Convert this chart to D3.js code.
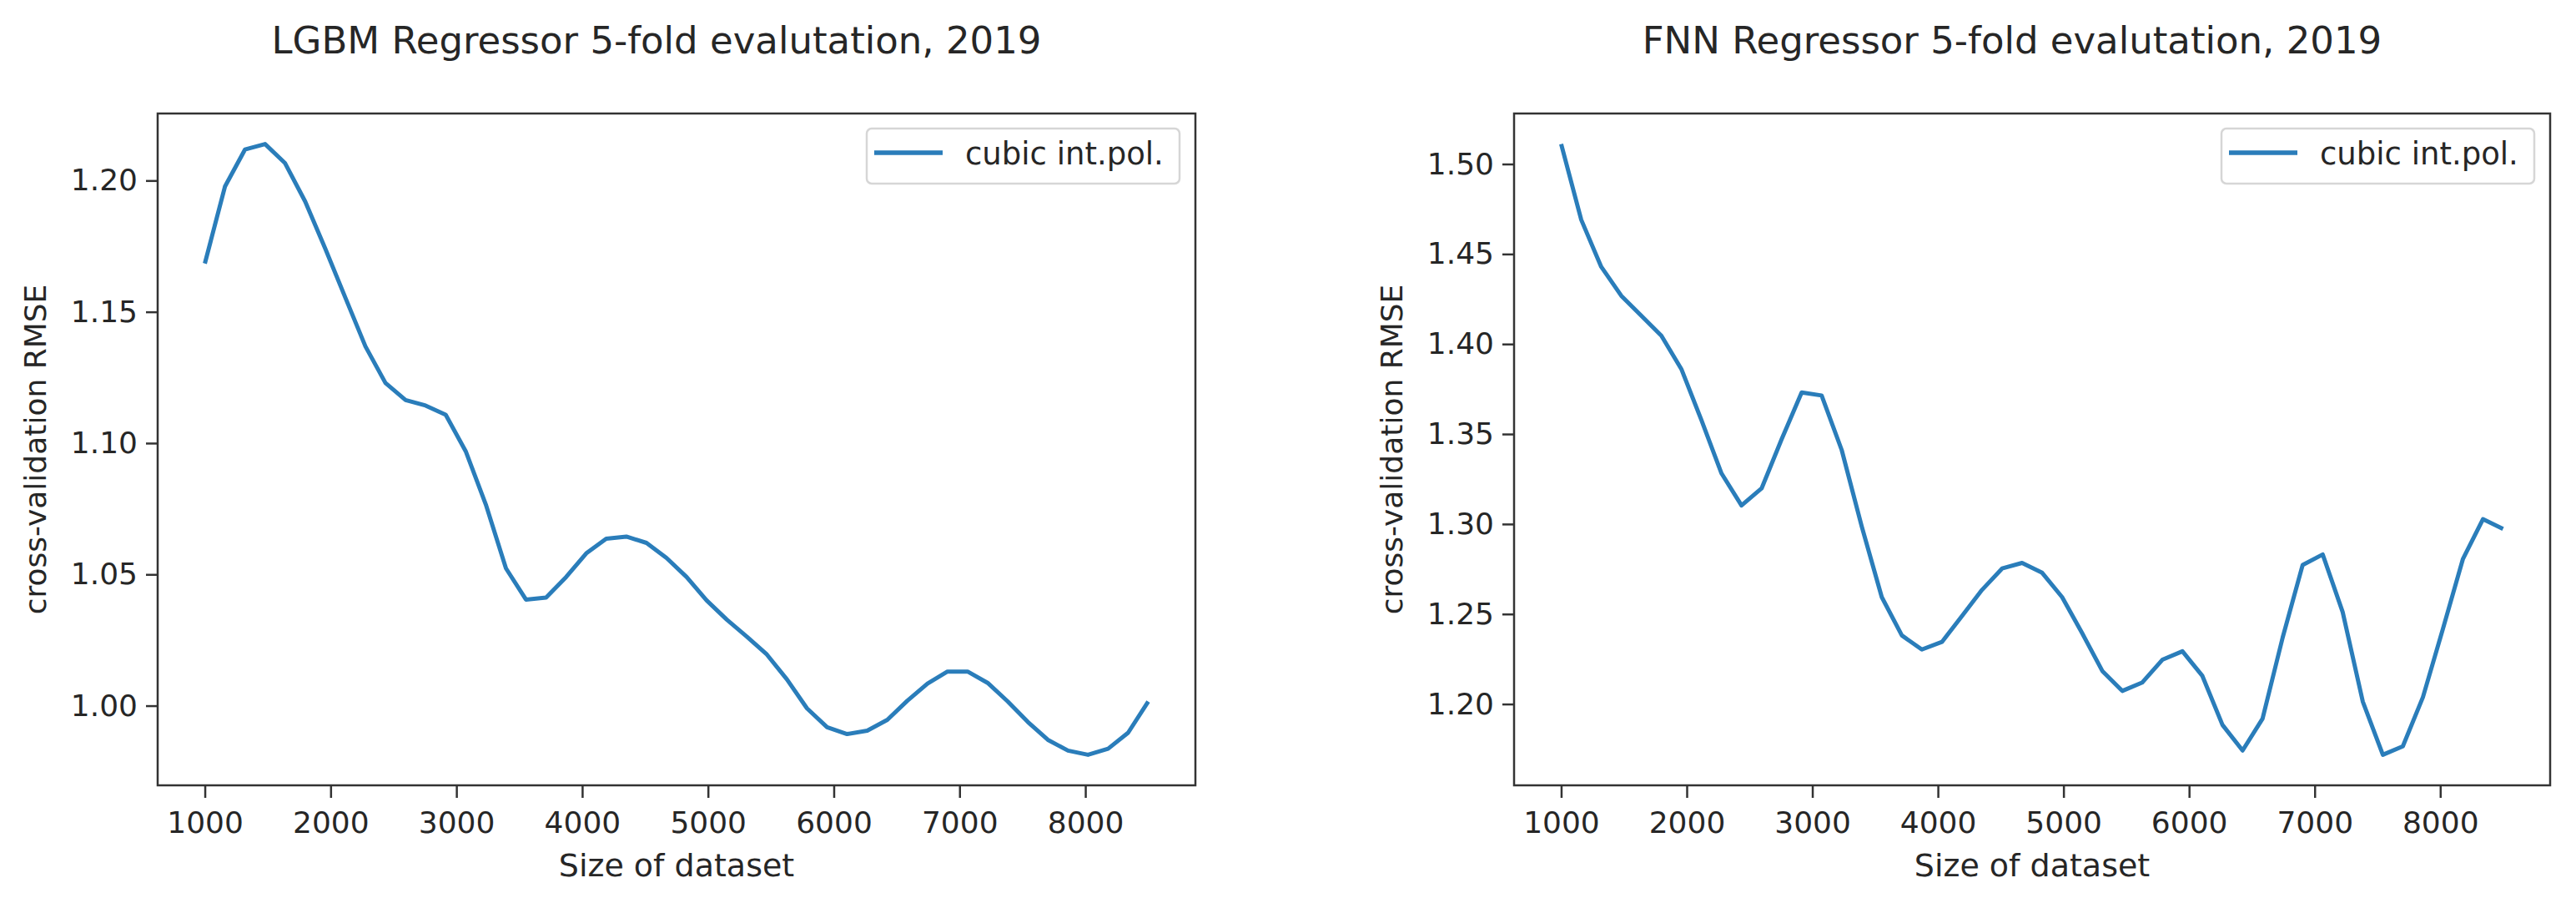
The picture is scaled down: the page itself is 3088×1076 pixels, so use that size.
<!DOCTYPE html>
<html>
<head>
  <meta charset="utf-8">
  <title>5-fold evaluation</title>
  <style>
    body { margin: 0; background: #fff; }
    text { font-family: 'DejaVu Sans', sans-serif; fill: #262626; }
    .axis path, .axis line { stroke: #333; stroke-width: 2.5; }
    .axis text { font-size: 36px; }
  </style>
</head>
<body>
<script src="https://d3js.org/d3.v7.min.js"></script>
<script>
  var width = 3088,
      height = 1076;

  // dataset sizes (x) shared by both panels
  var sizes = [1000, 1160, 1319, 1479, 1638, 1798, 1957, 2117, 2277, 2436, 2596, 2755,
               2915, 3074, 3234, 3394, 3553, 3713, 3872, 4032, 4191, 4351, 4511, 4670,
               4830, 4989, 5149, 5309, 5468, 5628, 5787, 5947, 6106, 6266, 6426, 6585,
               6745, 6904, 7064, 7223, 7383, 7543, 7702, 7862, 8021, 8181, 8340, 8500];

  var lgbmRmse = [1.1684, 1.1977, 1.2118, 1.2139, 1.2066, 1.1920, 1.1741, 1.1554, 1.1368, 1.1229,
                  1.1164, 1.1143, 1.1108, 1.0969, 1.0766, 1.0523, 1.0404, 1.0412, 1.0490, 1.0580,
                  1.0636, 1.0644, 1.0620, 1.0563, 1.0490, 1.0401, 1.0328, 1.0263, 1.0195, 1.0100,
                  0.9990, 0.9918, 0.9892, 0.9905, 0.9946, 1.0019, 1.0084, 1.0130, 1.0130, 1.0087,
                  1.0016, 0.9938, 0.9870, 0.9829, 0.9813, 0.9836, 0.9897, 1.0016];

  var fnnRmse = [1.5111, 1.4690, 1.4429, 1.4268, 1.4157, 1.4046, 1.3861, 1.3577, 1.3281, 1.3103,
                 1.3198, 1.3470, 1.3731, 1.3714, 1.3411, 1.2985, 1.2594, 1.2381, 1.2303, 1.2345,
                 1.2488, 1.2634, 1.2753, 1.2784, 1.2729, 1.2594, 1.2393, 1.2184, 1.2073, 1.2120,
                 1.2246, 1.2293, 1.2156, 1.1884, 1.1742, 1.1919, 1.2369, 1.2772, 1.2831, 1.2511,
                 1.2014, 1.1718, 1.1765, 1.2038, 1.2417, 1.2807, 1.3027, 1.2973];

  var xTicks = [1000, 2000, 3000, 4000, 5000, 6000, 7000, 8000];
  var lgbmYTicks = [1.00, 1.05, 1.10, 1.15, 1.20];
  var fnnYTicks = [1.20, 1.25, 1.30, 1.35, 1.40, 1.45, 1.50];

  var titles = ['LGBM Regressor 5-fold evalutation, 2019', 'FNN Regressor 5-fold evalutation, 2019'];
  var xLabel = 'Size of dataset';
  var yLabel = 'cross-validation RMSE';
  var legendLabel = 'cubic int.pol.';

  var svg = d3.select('body')
    .append('svg')
    .attr('width', width)
    .attr('height', height);

  var lineColor = '#2a7dba';

  // matplotlib-style 5% margin around data
  function padded(arr) {
    var ext = d3.extent(arr);
    var pad = (ext[1] - ext[0]) * 0.05;
    return [ext[0] - pad, ext[1] + pad];
  }

  function drawPanel(box, values, yTicks, title) {
    var w = box.right - box.left,
        h = box.bottom - box.top;

    var g = svg.append('g')
      .attr('transform', 'translate(' + box.left + ',' + box.top + ')');

    var xScale = d3.scaleLinear().domain(padded(sizes)).range([0, w]);
    var yScale = d3.scaleLinear().domain(padded(values)).range([h, 0]);

    var xAxis = d3.axisBottom(xScale)
      .tickValues(xTicks)
      .tickSize(15)
      .tickPadding(8)
      .tickFormat(d3.format('d'));

    var yAxis = d3.axisLeft(yScale)
      .tickValues(yTicks)
      .tickSize(14)
      .tickPadding(10)
      .tickFormat(d3.format('.2f'));

    var xg = g.append('g')
      .attr('class', 'axis')
      .attr('transform', 'translate(0,' + h + ')')
      .call(xAxis);
    xg.select('.domain').remove();
    xg.selectAll('text').attr('dy', '0.95em');

    var yg = g.append('g')
      .attr('class', 'axis')
      .call(yAxis);
    yg.select('.domain').remove();

    var line = d3.line()
      .x(function(d, i) { return xScale(sizes[i]); })
      .y(function(d) { return yScale(d); });

    g.append('path')
      .datum(values)
      .attr('d', line)
      .attr('fill', 'none')
      .attr('stroke', lineColor)
      .attr('stroke-width', 5)
      .attr('stroke-linejoin', 'round');

    // frame
    g.append('rect')
      .attr('width', w)
      .attr('height', h)
      .attr('fill', 'none')
      .attr('stroke', '#333')
      .attr('stroke-width', 2.5);

    // legend
    var lg = g.append('g')
      .attr('transform', 'translate(' + (w - 394) + ',18)');
    lg.append('rect')
      .attr('width', 375)
      .attr('height', 66)
      .attr('rx', 6)
      .attr('fill', '#fff')
      .attr('stroke', '#d6d6d6')
      .attr('stroke-width', 2.5);
    lg.append('line')
      .attr('x1', 9).attr('x2', 91)
      .attr('y1', 29).attr('y2', 29)
      .attr('stroke', lineColor)
      .attr('stroke-width', 5.5);
    lg.append('text')
      .attr('x', 118)
      .attr('y', 43)
      .style('font-size', '37px')
      .text(legendLabel);

    svg.append('text')
      .attr('x', box.left + w / 2 - 24)
      .attr('y', 64)
      .attr('text-anchor', 'middle')
      .style('font-size', '45px')
      .text(title);

    svg.append('text')
      .attr('x', box.left + w / 2)
      .attr('y', 1050)
      .attr('text-anchor', 'middle')
      .style('font-size', '38px')
      .text(xLabel);

    svg.append('text')
      .attr('transform', 'translate(' + (box.left - 134) + ',' + (box.top + h / 2) + ') rotate(-90)')
      .attr('text-anchor', 'middle')
      .style('font-size', '36px')
      .text(yLabel);
  }

  drawPanel({left: 189, right: 1433, top: 136, bottom: 941}, lgbmRmse, lgbmYTicks, titles[0]);
  drawPanel({left: 1815, right: 3057, top: 136, bottom: 941}, fnnRmse, fnnYTicks, titles[1]);
</script>
</body>
</html>
